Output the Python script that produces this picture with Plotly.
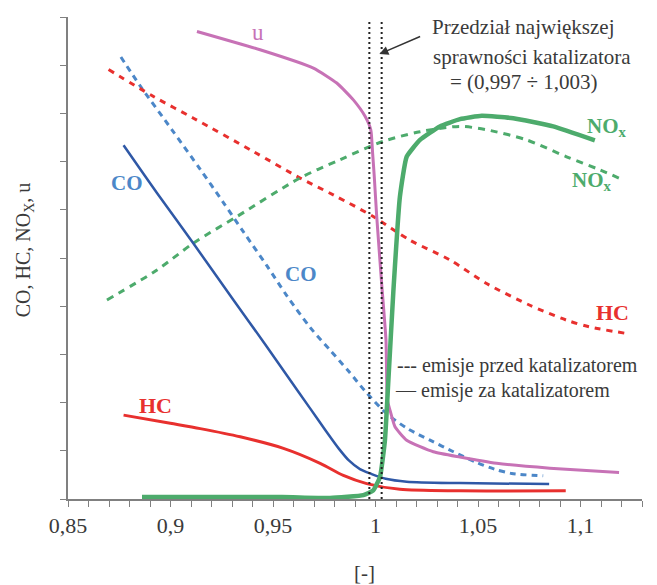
import plotly.graph_objects as go

# ---- data (lambda [-] vs relative value) ----
u_x = [0.9129, 0.9437, 0.9697, 0.9811, 0.9892, 0.9949, 0.9977, 0.9986, 0.9994, 1.0006, 1.0030, 1.0051, 1.0058, 1.0071, 1.0095, 1.0152, 1.0282, 1.0412, 1.0591, 1.0850, 1.1188]
u_y = [9.70, 9.32, 8.94, 8.63, 8.28, 7.94, 7.66, 7.17, 6.69, 5.86, 4.47, 3.30, 2.05, 1.84, 1.50, 1.22, 0.98, 0.87, 0.74, 0.64, 0.55]

co_after_x = [0.8771, 0.8934, 0.9112, 0.9307, 0.9470, 0.9575, 0.9681, 0.9760, 0.9820, 0.9870, 0.9924, 0.9980, 1.0050, 1.0152, 1.0412, 1.0847]
co_after_y = [7.34, 6.35, 5.30, 4.13, 3.16, 2.52, 1.88, 1.40, 1.05, 0.80, 0.62, 0.52, 0.42, 0.36, 0.33, 0.31]

co_before_x = [0.8758, 0.8852, 0.9007, 0.9145, 0.9258, 0.9356, 0.9470, 0.9567, 0.9681, 0.9780, 0.9867, 0.9957, 1.0055, 1.0160, 1.0266, 1.0380, 1.0493, 1.0580, 1.0664, 1.0818]
co_before_y = [9.17, 8.57, 7.66, 6.84, 6.15, 5.54, 4.84, 4.22, 3.56, 3.08, 2.66, 2.20, 1.77, 1.45, 1.22, 0.98, 0.76, 0.62, 0.53, 0.48]

hc_after_x = [0.8771, 0.8999, 0.9145, 0.9340, 0.9551, 0.9730, 0.9843, 0.9957, 1.0119, 1.0412, 1.0928]
hc_after_y = [1.74, 1.57, 1.46, 1.29, 1.05, 0.74, 0.49, 0.32, 0.20, 0.17, 0.17]

hc_before_x = [0.8698, 0.8917, 0.9112, 0.9404, 0.9632, 0.9794, 0.9989, 1.0168, 1.0363, 1.0542, 1.0753, 1.0932, 1.1045, 1.1216]
hc_before_y = [8.91, 8.35, 7.90, 7.21, 6.66, 6.31, 5.86, 5.37, 4.96, 4.47, 4.02, 3.71, 3.57, 3.44]

nox_before_x = [0.8690, 0.8934, 0.9112, 0.9324, 0.9632, 0.9827, 1.0038, 1.0217, 1.0412, 1.0542, 1.0737, 1.0932, 1.1094, 1.1208]
nox_before_y = [4.13, 4.75, 5.31, 5.86, 6.66, 7.04, 7.42, 7.62, 7.73, 7.66, 7.45, 7.10, 6.83, 6.62]

nox_after_x = [0.8861, 0.9543, 0.9778, 0.9941, 0.9989, 1.0022, 1.0046, 1.0062, 1.0087, 1.0119, 1.0152, 1.0217, 1.0314, 1.0412, 1.0518, 1.0672, 1.0867, 1.1070]
nox_after_y = [0.04, 0.04, 0.02, 0.08, 0.18, 0.46, 1.22, 2.40, 4.30, 6.27, 7.10, 7.45, 7.73, 7.88, 7.95, 7.90, 7.73, 7.44]

window_lo, window_hi = 0.997, 1.003
window_top = 9.91

x_tick_vals = [0.85, 0.90, 0.95, 1.00, 1.05, 1.10]
x_tick_text = ["0,85", "0,9", "0,95", "1", "1,05", "1,1"]
y_tick_vals = list(range(0, 11))

FONT = "Liberation Serif"
TXT = "#3a3a3a"
C_U = "#c772b6"
C_CO_A = "#2f58a6"
C_CO_B = "#4c87c8"
C_HC = "#e8302e"
C_NOX = "#4dab6c"

fig = go.Figure()

def add(x, y, color, width, dash="solid", shape="spline", smoothing=0.8):
    line = dict(color=color, width=width, dash=dash, shape=shape)
    if shape == "spline":
        line["smoothing"] = smoothing
    fig.add_trace(go.Scatter(x=x, y=y, mode="lines", line=line, hoverinfo="skip", showlegend=False))

add(co_before_x, co_before_y, C_CO_B, 3, dash="6px,5px")
add(hc_before_x, hc_before_y, C_HC, 3, dash="6px,6px")
add(nox_before_x, nox_before_y, C_NOX, 3, dash="7px,6px")
add(hc_after_x, hc_after_y, C_HC, 3)
add(co_after_x, co_after_y, C_CO_A, 2.5)
add(u_x, u_y, C_U, 3, smoothing=0.5)
add(nox_after_x, nox_after_y, C_NOX, 4.5, smoothing=0.4)

# window lines
for xv in (window_lo, window_hi):
    fig.add_trace(go.Scatter(x=[xv, xv], y=[0, window_top], mode="lines",
                             line=dict(color="#222222", width=2, dash="2px,3px"),
                             hoverinfo="skip", showlegend=False))

ann = []
def label(text, x, y, color, size=21, bold=True, xanchor="center", yanchor="middle"):
    t = f"<b>{text}</b>" if bold else text
    ann.append(dict(x=x, y=y, xref="x", yref="y", text=t, showarrow=False,
                    font=dict(family=FONT, size=size, color=color),
                    xanchor=xanchor, yanchor=yanchor))

label("u", 0.9427, 9.67, C_U, bold=False, size=23)
label("CO", 0.8789, 6.56, C_CO_B)
label("CO", 0.9637, 4.66, C_CO_B)
label("HC", 0.8926, 1.95, C_HC, size=22)
label("HC", 1.1157, 3.86, C_HC, size=22)
label("NO<sub>x</sub>", 1.1129, 7.72, C_NOX)
label("NO<sub>x</sub>", 1.1058, 6.60, C_NOX)

label("Przedział największej", 1.0723, 9.80, TXT, bold=False, size=21)
label("sprawności katalizatora", 1.0762, 9.17, TXT, bold=False, size=21)
label("= (0,997 ÷ 1,003)", 1.0723, 8.65, TXT, bold=False, size=21)

label("--- emisje przed katalizatorem", 1.0095, 2.78, TXT, bold=False, size=20, xanchor="left")
label("— emisje za katalizatorem", 1.0085, 2.26, TXT, bold=False, size=20, xanchor="left")

# arrow
ann.append(dict(x=1.0019, y=9.23, xref="x", yref="y", ax=1.0225, ay=9.61, axref="x", ayref="y",
                text="", showarrow=True, arrowhead=2, arrowsize=1.2, arrowwidth=1.5, arrowcolor="#333333"))

# axis titles
ann.append(dict(x=-0.0744, y=0.5166, xref="paper", yref="paper", text="CO, HC, NO<sub>X</sub>, u",
                xanchor="center", yanchor="middle",
                textangle=-90, showarrow=False, font=dict(family=FONT, size=20, color=TXT)))
ann.append(dict(x=0.516, y=-0.154, xref="paper", yref="paper", text="[-]",
                xanchor="center", yanchor="middle",
                showarrow=False, font=dict(family=FONT, size=21, color=TXT)))

fig.update_layout(
    width=657, height=585,
    margin=dict(l=68, r=15, t=17, b=86, pad=0),
    plot_bgcolor="white", paper_bgcolor="white",
    annotations=ann,
    xaxis=dict(range=[0.85, 1.13], showgrid=False, zeroline=False,
               showline=True, linecolor="#808080", linewidth=1.5,
               ticks="outside", ticklen=6, tickcolor="#808080", tickwidth=1.2,
               tickvals=x_tick_vals, ticktext=x_tick_text,
               tickfont=dict(family=FONT, size=22, color=TXT),
               minor=dict(dtick=0.01, tick0=0.85, ticks="outside", ticklen=6, tickcolor="#808080", tickwidth=1.2, showgrid=False)),
    yaxis=dict(range=[0, 10], showgrid=False, zeroline=False,
               showline=True, linecolor="#808080", linewidth=1.5,
               ticks="outside", ticklen=6, tickcolor="#808080", tickwidth=1.2,
               tickvals=y_tick_vals, showticklabels=False),
)

fig.write_html("out.html", config={"displayModeBar": False},
               post_script="document.body.style.margin='0px';")
